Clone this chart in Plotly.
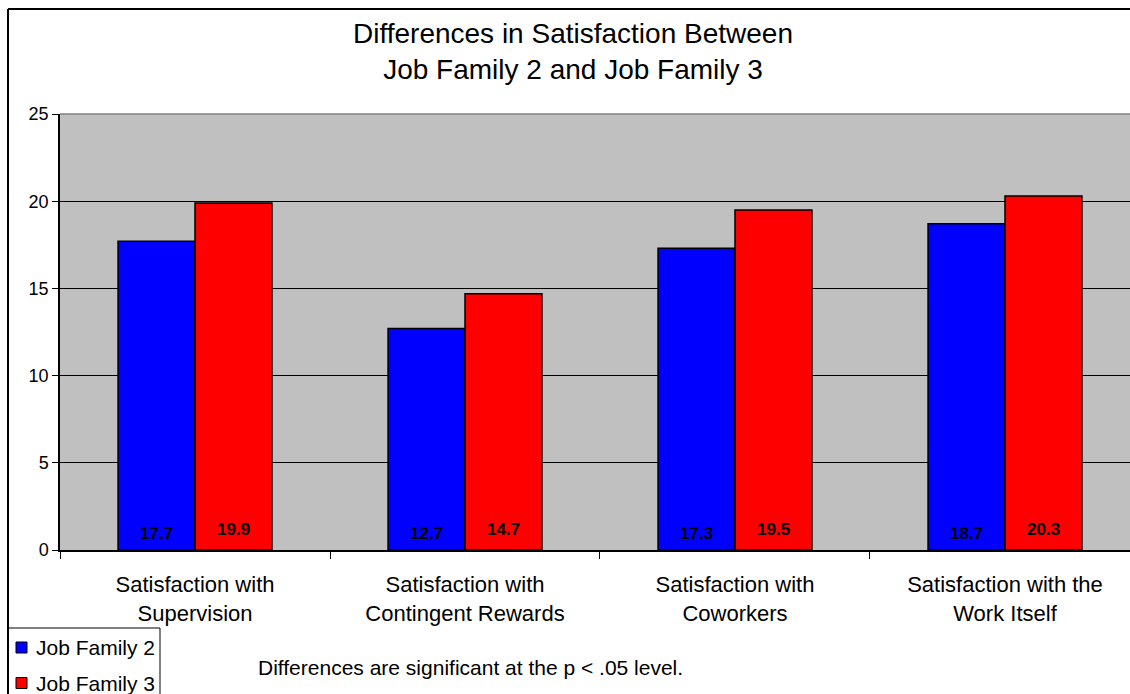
import plotly.graph_objects as go

# Survey results: mean satisfaction score per facet, by job family
categories = [
    "Satisfaction with<br>Supervision",
    "Satisfaction with<br>Contingent Rewards",
    "Satisfaction with<br>Coworkers",
    "Satisfaction with the<br>Work Itself",
]
family2 = [17.7, 12.7, 17.3, 18.7]
family3 = [19.9, 14.7, 19.5, 20.3]
series_names = ["Job Family 2", "Job Family 3"]
y_ticks = [0, 5, 10, 15, 20, 25]

title_text = "Differences in Satisfaction Between<br>Job Family 2 and Job Family 3"
note_text = "Differences are significant at the p < .05 level."

BLUE = "#0000FF"
RED = "#FF0000"
FONT = "Liberation Sans, Arial, sans-serif"

W, H = 1130, 694
L, R, T, B = 60, 0, 114, 144
BARGAP = 0.43


def px_x(px):
    """Horizontal pixel -> paper coordinate."""
    return (px - L) / (W - L - R)


def px_y(py):
    """Vertical pixel -> paper coordinate."""
    return (H - B - py) / (H - T - B)


fig = go.Figure()
for name, vals, col in [(series_names[0], family2, BLUE), (series_names[1], family3, RED)]:
    fig.add_trace(go.Bar(
        name=name, x=categories, y=vals,
        marker=dict(color=col, line=dict(color="black", width=1.5)),
        showlegend=False,
    ))

# value labels near the base of each bar
half = (1 - BARGAP) / 4
annotations = []
for i in range(len(categories)):
    for vals, dx, shift in [(family2, -half, 17), (family3, half, 21)]:
        annotations.append(dict(
            x=i + dx, y=0, xref="x", yref="y", text=f"{vals[i]:.1f}",
            showarrow=False, yanchor="middle", yshift=shift,
            font=dict(family=FONT, size=17, color="black", weight="bold"),
        ))

# legend entries
legend_rows = [(series_names[0], BLUE, 647.5), (series_names[1], RED, 683)]
shapes = [
    # outer chart frame (top and left edges; the rest runs off the page)
    dict(type="line", xref="paper", yref="paper", x0=px_x(8), x1=px_x(W),
         y0=px_y(9), y1=px_y(9), line=dict(color="black", width=2)),
    dict(type="line", xref="paper", yref="paper", x0=px_x(8), x1=px_x(8),
         y0=px_y(9), y1=px_y(H), line=dict(color="black", width=2)),
    # top border of the plot area
    dict(type="line", xref="paper", yref="paper", x0=0, x1=1, y0=1, y1=1,
         line=dict(color="#808080", width=1.5)),
    # legend frame
    dict(type="path", xref="paper", yref="paper",
         path=f"M {px_x(8)},{px_y(H)} L {px_x(8)},{px_y(628)} L {px_x(160)},{px_y(628)} L {px_x(160)},{px_y(H)}",
         line=dict(color="black", width=1)),
]
for name, col, cy in legend_rows:
    shapes.append(dict(type="rect", xref="paper", yref="paper",
                       x0=px_x(16), x1=px_x(27), y0=px_y(cy + 5.5), y1=px_y(cy - 5.5),
                       fillcolor=col, line=dict(color="black", width=1)))
    annotations.append(dict(x=px_x(34), y=px_y(cy), xref="paper", yref="paper",
                            text=name, showarrow=False, xanchor="left", yanchor="middle",
                            font=dict(family=FONT, size=21, color="black")))

annotations.append(dict(x=px_x(256), y=px_y(667), xref="paper", yref="paper",
                        text=note_text, showarrow=False, xanchor="left", yanchor="middle",
                        font=dict(family=FONT, size=21, color="black")))

fig.update_layout(
    width=W, height=H,
    margin=dict(l=L, r=R, t=T, b=B),
    paper_bgcolor="white",
    plot_bgcolor="#C0C0C0",
    barmode="group", bargap=BARGAP, bargroupgap=0,
    title=dict(text=title_text, x=573 / W, xref="container", xanchor="center",
               y=1 - 43 / H, yref="container", yanchor="middle",
               font=dict(family=FONT, size=28, color="black")),
    xaxis=dict(
        range=[-0.5, 3.463], showgrid=False,
        showline=True, linecolor="black", linewidth=1.5,
        ticks="outside", tickson="boundaries", ticklen=7, tickcolor="black",
        ticklabelstandoff=14,
        tickfont=dict(family=FONT, size=22, color="black"),
    ),
    yaxis=dict(
        range=[0, 25], tickvals=y_ticks, showgrid=True, gridcolor="black", gridwidth=1,
        showline=True, linecolor="black", linewidth=1.5, zeroline=False,
        ticks="outside", ticklen=6, tickcolor="black",
        tickfont=dict(family=FONT, size=18, color="black"),
    ),
    shapes=shapes,
    annotations=annotations,
)

fig.write_html("out.html")
